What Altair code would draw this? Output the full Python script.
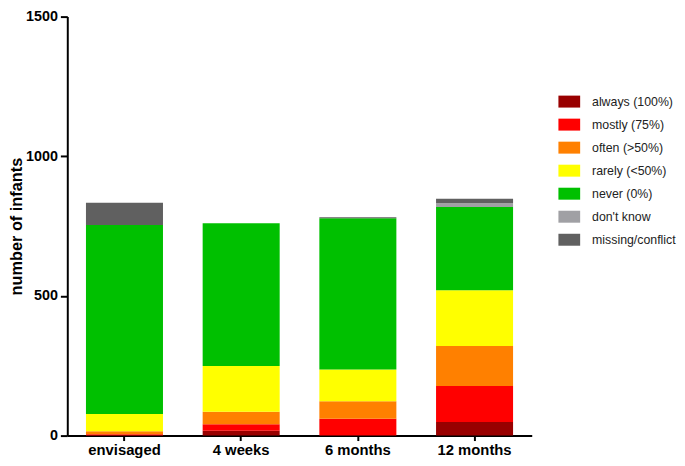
import altair as alt
import pandas as pd

categories = ["envisaged", "4 weeks", "6 months", "12 months"]
series = ["always (100%)", "mostly (75%)", "often (>50%)", "rarely (<50%)",
          "never (0%)", "don't know", "missing/conflict"]
colors = ["#990000", "#FF0000", "#FF8000", "#FFFF00", "#00C000", "#A0A0A4", "#606060"]

always = [0, 17, 0, 49]
mostly = [5, 24, 60, 129]
often = [11, 44, 63, 143]
rarely = [61, 164, 114, 199]
never = [677, 511, 541, 298]
dont_know = [0, 0, 0, 14]
missing = [80, 0, 4, 16]

values = [always, mostly, often, rarely, never, dont_know, missing]
rows = []
for si, (s, vals) in enumerate(zip(series, values)):
    for c, v in zip(categories, vals):
        rows.append({"time": c, "answer": s, "n": v, "rank": si})
df = pd.DataFrame(rows)

font = "Liberation Sans"

chart = alt.Chart(df).mark_bar().encode(
    x=alt.X("time:N", sort=categories,
            scale=alt.Scale(paddingInner=0.34, paddingOuter=0.16),
            axis=alt.Axis(title=None, labelAngle=0, labelFont=font, labelFontSize=15,
                          labelFontWeight="bold", labelColor="black",
                          domainColor="black", domainWidth=2, tickColor="black",
                          tickWidth=2, tickSize=5, labelPadding=2)),
    y=alt.Y("n:Q", stack="zero",
            scale=alt.Scale(domain=[0, 1500], nice=False),
            axis=alt.Axis(title="number of infants", values=[0, 500, 1000, 1500],
                          format="d", grid=False, labelFont=font, labelFontSize=14.5,
                          labelFontWeight="bold", labelColor="black",
                          titleFont=font, titleFontSize=16.5, titleFontWeight="bold",
                          titleColor="black", titlePadding=1,
                          domainColor="black", domainWidth=2, tickColor="black",
                          tickWidth=2, tickSize=7, labelPadding=3)),
    color=alt.Color("answer:N", sort=series,
                    scale=alt.Scale(domain=series, range=colors),
                    legend=alt.Legend(title=None, orient="none", legendX=497, legendY=75,
                                      symbolType="M-1,-0.55L1,-0.55L1,0.55L-1,0.55Z",
                                      symbolSize=484, symbolStrokeWidth=0,
                                      symbolOpacity=1,
                                      labelFont=font, labelFontSize=12.5,
                                      labelColor="#222222", labelOffset=12,
                                      rowPadding=5.3, labelLimit=200)),
    order=alt.Order("rank:Q", sort="ascending"),
).properties(
    width=470, height=424,
    autosize=alt.AutoSizeParams(type="none"),
    padding={"left": 60, "top": 6, "right": 147, "bottom": 24},
).configure_view(stroke=None)

chart.save("out.html", embed_options={"renderer": "svg", "actions": False})
